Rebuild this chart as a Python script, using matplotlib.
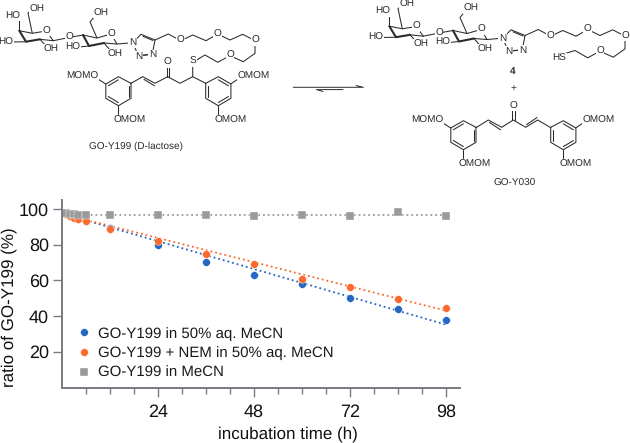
import matplotlib
matplotlib.use('Agg')
import matplotlib.pyplot as plt

plt.rcParams['font.family'] = ['Liberation Sans', 'DejaVu Sans']
plt.rcParams['text.hinting'] = 'none'
plt.rcParams['text.hinting_factor'] = 1

# chart data
hours = [1, 2, 3, 4, 6, 12, 24, 36, 48, 60, 72, 84, 96]
aq_mecn = [97.2, 96.3, 95.4, 94.6, 93.4, 89.2, 79.8, 70.0, 63.0, 57.7, 50.0, 43.9, 37.9]
nem_mecn = [97.0, 96.0, 95.0, 94.4, 93.0, 88.6, 82.2, 74.6, 69.0, 61.0, 56.3, 49.4, 44.4]
mecn = [97.6, 97.2, 97.0, 96.8, 96.4, 96.4, 96.4, 96.4, 96.0, 96.4, 96.2, 98.0, 96.1]

fit_hours = [0, 96]
aq_fit = [97.5, 35.2]
nem_fit = [97.3, 43.0]
mecn_fit = [96.4, 96.4]

major_ticks = [24, 48, 72, 96]
major_labels = ['24', '48', '72', '98']
minor_ticks = [6, 12, 18, 30, 36, 42, 54, 60, 66, 78, 84, 90]
y_ticks = [20, 40, 60, 80, 100]

labels = ['GO-Y199 in 50% aq. MeCN', 'GO-Y199 + NEM in 50% aq. MeCN', 'GO-Y199 in MeCN']
blue = '#2468c4'
orange = '#fb6a2c'
grey = '#9a9a9c'
axis_grey = '#777c82'

fig = plt.figure(figsize=(6.3, 4.43), dpi=100)

# chemical structures, drawn on a full figure overlay in pixels
sk = fig.add_axes([0, 0, 1, 1])
sk.set_xlim(0, 630)
sk.set_ylim(443, 0)
sk.axis('off')

ink = '#2b2b2b'


def bond(points, dx=0, dy=0, lw=0.75):
    sk.plot([p[0] + dx for p in points], [p[1] + dy for p in points],
            color=ink, lw=lw, solid_capstyle='round', solid_joinstyle='round')


def label(x, y, s, dx=0, dy=0, size=7.1, ha='center', weight='normal'):
    sk.text(x + dx, y + dy, s, fontsize=size, ha=ha, va='center', color=ink, weight=weight,
            bbox=dict(facecolor='white', edgecolor='none', pad=0.4))


def lactose_triazole(dx, dy):
    # galactose ring
    bond([(19.3, 30.7), (32.3, 33.3), (46, 31), (53.3, 40.7)], dx, dy)
    bond([(53.3, 40.7), (40, 39.3)], dx, dy)
    bond([(19.3, 30.7), (26, 41.7), (40, 39.3)], dx, dy, lw=1.5)
    bond([(32.3, 33.3), (28, 13), (33, 10)], dx, dy)
    bond([(19.3, 30.7), (19.3, 20)], dx, dy)
    bond([(26, 41.7), (13, 42)], dx, dy)
    bond([(40, 39.3), (46, 46)], dx, dy)
    bond([(53.3, 40.7), (69, 37.5), (83, 35)], dx, dy)
    # glucose ring
    bond([(83, 35), (97, 38), (111, 34), (117, 44), (104, 43)], dx, dy)
    bond([(83, 35), (89, 46), (104, 43)], dx, dy, lw=1.5)
    bond([(97, 38), (90, 22), (95, 16)], dx, dy)
    bond([(89, 46), (79, 47)], dx, dy)
    bond([(104, 43), (110, 50)], dx, dy)
    bond([(117, 44), (132.7, 42.7)], dx, dy)
    # triazole
    bond([(132.7, 42.7), (141, 34.3), (155, 40), (152.3, 54.3), (138.3, 55.7), (132.7, 42.7)], dx, dy)
    bond([(143, 36.3), (153, 40.5)], dx, dy)
    bond([(141, 55.5), (150, 54.5)], dx, dy)
    for x, y, s in [(37, 9, 'OH'), (13, 16, 'HO'), (6, 42, 'HO'), (51, 49, 'OH'), (69, 37.5, 'O'),
                    (46, 31, 'O'), (111, 34, 'O'), (101, 13, 'OH'), (73, 47, 'HO'), (115, 54, 'OH'),
                    (132.7, 42.7, 'N'), (138.3, 56, 'N'), (152.3, 54.8, 'N')]:
        label(x, y, s, dx, dy)


def peg_chain(end, dx, dy):
    pts = [(155, 40), (168.3, 34), (180.7, 40.7), (192.7, 35), (206, 40.7), (217.7, 34), (230, 40),
           (242.7, 34.3), (255, 40.7), (255, 53.3), (243.3, 61.7), (230, 55.7), (217.7, 62.3),
           (205, 55)] + end
    bond(pts, dx, dy)
    for x, y in [(180.7, 40.7), (217.7, 34), (255, 40.7), (230, 55.7)]:
        label(x, y, 'O', dx, dy)


def aryl(cx, dx, dy):
    # ring around ipso carbon at x=cx
    bond([(cx, 83.3), (cx - 12.6, 76.7), (cx - 25.2, 84), (cx - 25.2, 98.3), (cx - 12.6, 105.7),
          (cx, 98.3), (cx, 83.3)], dx, dy)
    bond([(cx - 2.5, 85.5), (cx - 2.5, 96.5)], dx, dy)
    bond([(cx - 22.7, 96.5), (cx - 12.6, 102.6)], dx, dy)
    bond([(cx - 22.7, 85.8), (cx - 12.6, 79.8)], dx, dy)


def aryl_right(cx, dx, dy):
    bond([(cx, 83.3), (cx + 12.6, 76.7), (cx + 25.2, 84), (cx + 25.2, 98.3), (cx + 12.6, 105.7),
          (cx, 98.3), (cx, 83.3)], dx, dy)
    bond([(cx + 2.5, 85.5), (cx + 2.5, 96.5)], dx, dy)
    bond([(cx + 22.7, 96.5), (cx + 12.6, 102.6)], dx, dy)
    bond([(cx + 22.7, 85.8), (cx + 12.6, 79.8)], dx, dy)


# GO-Y199 adduct
lactose_triazole(0, 0)
peg_chain([(192.7, 62.3), (192.7, 76.7)], 0, 0)
label(192.7, 61.5, 'S')
aryl(131, 0, 0)
aryl_right(205.7, 0, 0)
bond([(131, 83.3), (142.7, 76.7), (155, 83.3), (167.7, 76.7), (180, 83.3), (192.7, 76.7), (205.7, 83.3)])
bond([(144, 79.4), (154.5, 85.8)])
bond([(166.5, 76.7), (166.5, 66)])
bond([(169, 76.7), (169, 66)])
label(167.7, 62.3, 'O')
bond([(105.7, 84), (98, 79)])
bond([(118.3, 105.7), (118.3, 114)])
bond([(230.7, 84), (238, 79)])
bond([(218.3, 105.7), (218.3, 114)])
label(82, 76.7, 'MOMO')
label(130, 120, 'OMOM')
label(254, 76.7, 'OMOM')
label(230.7, 120, 'OMOM')
label(135.7, 146.7, 'GO-Y199 (D-lactose)')

# thiol 4
lactose_triazole(370, -4.5)
peg_chain([(193.5, 58.5)], 370, -4.5)
label(559, 58.5, 'HS')
label(512.7, 71, '4', weight='bold')
label(513.3, 88, '+')

# GO-Y030
aryl(131, 345, 44)
aryl_right(205.7, 345, 44)
bond([(476, 127.7), (488.3, 120), (501.7, 127.3), (513.3, 120), (525.7, 127.3), (537.7, 120), (550.7, 127.7)])
bond([(489.5, 122.5), (500.5, 129.8)])
bond([(526.5, 124.7), (537, 117.5)])
bond([(512, 120), (512, 110)])
bond([(514.6, 120), (514.6, 110)])
label(513.3, 106, 'O')
bond([(450.7, 128), (443, 123)])
bond([(463.3, 150), (463.3, 158)])
bond([(575.7, 128), (583, 123)])
bond([(563.3, 150), (563.3, 158)])
label(427, 120.7, 'MOMO')
label(475, 164, 'OMOM')
label(599, 120.7, 'OMOM')
label(575.7, 164, 'OMOM')
label(515, 183, 'GO-Y030')

# equilibrium arrows
bond([(293.3, 87.3), (363.3, 87.3), (356, 85.5)], lw=0.7)
bond([(343, 89.6), (316.5, 89.6), (323, 91.5)], lw=0.7)

# time course
ax = fig.add_axes([62 / 630, 1 - 387.5 / 443, (460 - 62) / 630, (387.5 - 200) / 443])
ax.set_xlim(0, 99.5)
ax.set_ylim(0, 105)
ax.patch.set_alpha(0)

ax.plot(fit_hours, aq_fit, ls=':', color=blue, lw=1.3)
ax.plot(fit_hours, nem_fit, ls=':', color=orange, lw=1.3)
ax.plot(fit_hours, mecn_fit, ls=':', color=grey, lw=1.3)
ax.plot(hours, aq_mecn, 'o', color=blue, ms=5.6, mec='white', mew=0.3, label=labels[0])
ax.plot(hours, nem_mecn, 'o', color=orange, ms=5.6, mec='white', mew=0.3, label=labels[1])
ax.plot(hours, mecn, 's', color=grey, ms=5.4, mec='white', mew=0.3, label=labels[2])

ax.spines['top'].set_visible(False)
ax.spines['right'].set_visible(False)
ax.spines['left'].set_color(axis_grey)
ax.spines['bottom'].set_color(axis_grey)
ax.spines['left'].set_linewidth(1.4)
ax.spines['bottom'].set_linewidth(1.4)

ax.set_xticks(major_ticks)
ax.set_xticklabels(major_labels)
ax.set_xticks(minor_ticks, minor=True)
ax.set_yticks(y_ticks)
ax.tick_params(axis='both', which='major', color=axis_grey, width=1.0, length=6.5, labelsize=12.7,
               labelcolor='#111111', pad=3)
ax.tick_params(axis='x', which='major', pad=5)
ax.tick_params(axis='x', which='minor', color=axis_grey, width=1.0, length=4.5)

ax.set_xlabel('incubation time (h)', fontsize=12.6, color='#111111', labelpad=4, x=0.568)
ax.set_ylabel('ratio of GO-Y199 (%)', fontsize=12.6, color='#111111')
ax.yaxis.set_label_coords((17 - 62) / 398, (387.5 - 307) / 187.5)

ax.legend(loc='lower left', bbox_to_anchor=(0.018, 0.0), frameon=False, fontsize=10.8, labelcolor='#1a1a1a',
          handlelength=1.0, handletextpad=0.42, labelspacing=0.38, borderpad=0.3, borderaxespad=0.2)

fig.savefig('out.png', dpi=100)
